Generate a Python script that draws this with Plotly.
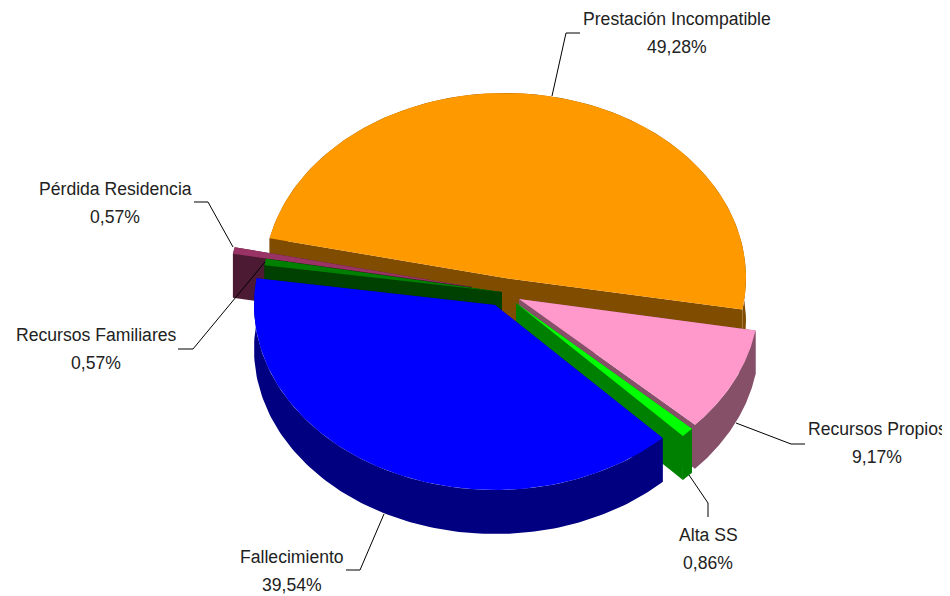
import numpy as np
import plotly.graph_objects as go

labels = ["Prestación Incompatible", "Recursos Propios", "Alta SS",
          "Fallecimiento", "Recursos Familiares", "Pérdida Residencia"]
values = [49.28, 9.17, 0.86, 39.54, 0.57, 0.57]

# slice styles, same order as labels
top_colors = ["#FF9900", "#FF99CC", "#00FF00", "#0000FF", "#008000", "#993366"]
wall_colors = ["#7F4C00", "#855068", "#008000", "#000080", "#004000", "#4D1A33"]
draw_order = [0, 5, 4, 1, 2, 3]

# pie geometry in pixels, the exploded tip of each slice and its radius
tips = [(505, 278), (519, 299), (516, 303), (495, 305), (502, 292), (472, 287)]
radius_x = [241, 240, 240, 241, 240, 243]
RY = 185
DEPTH = 44
START = -77.6  # degrees clockwise from 12 o'clock

# the page body has an 8px margin, so the plot starts at 8,8
PAGE_MARGIN = 8

FONT = dict(family="Liberation Sans, Arial", size=17.6, color="#222222")

# label centres and leader lines, pixels
label_pos = [(677, 19), (877, 429), (708, 535), (292, 557), (96, 335), (115, 189)]
leaders = [
    [(552, 96), (566, 33), (580, 33)],
    [(736, 423), (791, 444), (805, 444)],
    [(689, 475), (708, 503), (708, 517)],
    [(384, 514), (360, 570), (346, 570)],
    [(265, 262), (193, 349), (178, 349)],
    [(233, 247), (208, 202), (194, 202)],
]


def add_poly(fig, xs, ys, color):
    fig.add_trace(go.Scatter(x=xs, y=ys, mode="lines", fill="toself", fillcolor=color,
                             line=dict(width=0, color=color), hoverinfo="skip", showlegend=False))


fig = go.Figure()

# walk the values round the circle
total = sum(values)
angles = [START]
for v in values:
    angles.append(angles[-1] + v / total * 360)

for i in draw_order:
    a0, a1 = np.radians(angles[i]), np.radians(angles[i + 1])
    ax, ay = tips[i]
    t = np.linspace(a0, a1, 120)
    arc_x = ax + radius_x[i] * np.sin(t)
    arc_y = ay - RY * np.cos(t)

    # the two cut faces, then the rim, then the top
    for k in (0, -1):
        add_poly(fig, [ax, arc_x[k], arc_x[k], ax, ax],
                 [ay, arc_y[k], arc_y[k] + DEPTH, ay + DEPTH, ay], wall_colors[i])
    add_poly(fig, list(arc_x) + list(arc_x[::-1]) + [arc_x[0]],
             list(arc_y) + list(arc_y[::-1] + DEPTH) + [arc_y[0]], wall_colors[i])
    add_poly(fig, [ax] + list(arc_x) + [ax], [ay] + list(arc_y) + [ay], top_colors[i])

for pts in leaders:
    fig.add_trace(go.Scatter(x=[p[0] for p in pts], y=[p[1] for p in pts], mode="lines",
                             line=dict(color="black", width=1), hoverinfo="skip", showlegend=False))

for i in range(len(labels)):
    x, y = label_pos[i]
    fig.add_annotation(x=x, y=y, text=labels[i], showarrow=False, font=FONT)
    fig.add_annotation(x=x, y=y + 28, text="{:.2f}%".format(values[i]).replace(".", ","),
                       showarrow=False, font=FONT)

fig.update_layout(
    width=950 - PAGE_MARGIN, height=596 - PAGE_MARGIN,
    margin=dict(l=0, r=0, t=0, b=0),
    paper_bgcolor="white", plot_bgcolor="white",
    showlegend=False,
    xaxis=dict(range=[PAGE_MARGIN, 950], visible=False),
    yaxis=dict(range=[596, PAGE_MARGIN], visible=False),
)
fig.write_html("out.html")
